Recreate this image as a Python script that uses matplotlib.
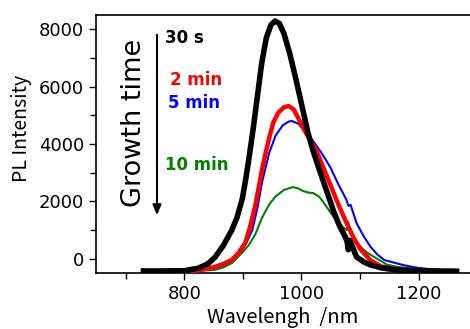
import matplotlib
matplotlib.use("Agg")
import matplotlib.pyplot as plt
from matplotlib.ticker import MultipleLocator

# spectra (wavelength nm, PL intensity)
wl_30s = [730, 760, 800, 824, 840, 852, 866, 881, 890, 899, 905, 911, 918, 925, 932, 940, 948, 955, 962, 970, 980, 990, 1000, 1011, 1020, 1034, 1045, 1055, 1065, 1075, 1078, 1080, 1082, 1086, 1094, 1106, 1118, 1136, 1160, 1200, 1230, 1265]
pl_30s = [-420, -420, -410, -320, -170, 50, 450, 1000, 1450, 2100, 2800, 3600, 4600, 5700, 6800, 7700, 8150, 8280, 8200, 7850, 7150, 6300, 5400, 4400, 3750, 2900, 2250, 1650, 1150, 760, 600, 320, 650, 480, 70, -100, -210, -310, -380, -410, -420, -430]

wl_2min = [730, 780, 820, 852, 866, 881, 893, 904, 912, 921, 928, 933, 940, 946, 952, 960, 970, 978, 987, 997, 1010, 1025, 1037, 1049, 1063, 1077, 1090, 1101, 1118, 1136, 1160, 1200, 1230, 1265]
pl_2min = [-420, -420, -410, -280, -180, -40, 220, 560, 1100, 1850, 2600, 3150, 3800, 4300, 4750, 5080, 5280, 5320, 5200, 4800, 4300, 3800, 3200, 2600, 1900, 1250, 700, 330, -50, -260, -360, -400, -410, -420]

wl_5min = [730, 780, 820, 852, 866, 881, 890, 899, 908, 916, 925, 933, 945, 956, 968, 978, 984, 995, 1008, 1020, 1034, 1049, 1063, 1077, 1080, 1084, 1094, 1106, 1118, 1130, 1141, 1153, 1175, 1198, 1230, 1265]
pl_5min = [-420, -420, -410, -310, -250, -140, 50, 310, 650, 1000, 1800, 2700, 3700, 4300, 4650, 4780, 4800, 4700, 4400, 4100, 3700, 3200, 2600, 2050, 1850, 1880, 1250, 800, 420, 150, -35, -100, -220, -310, -380, -420]

wl_10min = [730, 780, 820, 852, 866, 881, 890, 899, 910, 921, 933, 945, 956, 970, 985, 995, 1003, 1012, 1020, 1030, 1037, 1046, 1055, 1066, 1077, 1080, 1083, 1090, 1101, 1112, 1124, 1146, 1165, 1200, 1230, 1265]
pl_10min = [-430, -430, -420, -380, -300, -140, 40, 220, 480, 850, 1450, 1900, 2180, 2400, 2500, 2450, 2360, 2310, 2290, 2170, 1990, 1720, 1460, 1200, 1000, 1280, 950, 700, 420, 220, 70, -200, -280, -360, -400, -420]

labels = ["30 s", "2 min", "5 min", "10 min"]
colors = ["black", "red", "blue", "green"]
label_pos = [(165, 38), (170, 80), (168, 103), (165, 165)]  # pixel positions

W, H = 470, 329
fig = plt.figure(figsize=(W / 100, H / 100), dpi=100)
ax = fig.add_axes([96 / W, 1 - 273 / H, (480 - 96) / W, (273 - 15) / H])

ax.plot(wl_2min, pl_2min, color="red", lw=3.2, zorder=3)
ax.plot(wl_5min, pl_5min, color="blue", lw=1.5, zorder=2)
ax.plot(wl_10min, pl_10min, color="green", lw=1.5, zorder=2)
ax.plot(wl_30s, pl_30s, color="black", lw=4, zorder=4)

ax.set_xlim(649, 1305)
ax.set_ylim(-490, 8490)
ax.xaxis.set_major_locator(MultipleLocator(200))
ax.xaxis.set_minor_locator(MultipleLocator(100))
ax.yaxis.set_major_locator(MultipleLocator(2000))
ax.yaxis.set_minor_locator(MultipleLocator(1000))
ax.tick_params(axis="both", which="both", direction="out", labelsize=13, width=1)
ax.tick_params(which="major", length=5)
ax.tick_params(which="minor", length=4)
ax.spines["right"].set_visible(False)
for s in ax.spines.values():
    s.set_linewidth(1.2)

jp = ["Noto Sans CJK JP", "DejaVu Sans"]
fig.text(22 / W, 1 - 128 / H, "PL Intensity", rotation=90, ha="center", va="center",
         fontsize=14, family=jp)
fig.text(283 / W, 1 - 318 / H, "Wavelengh  /nm", ha="center", va="center",
         fontsize=14.5, family=jp)
fig.text(134 / W, 1 - 123 / H, "Growth time", rotation=90, ha="center", va="center",
         fontsize=19.5)
fig.add_artist(matplotlib.patches.FancyArrowPatch(
    (157 / W, 1 - 32 / H), (157 / W, 1 - 218 / H), transform=fig.transFigure,
    arrowstyle="-|>,head_length=6,head_width=2.5", color="black", lw=1.5,
    mutation_scale=1))
for lab, c, (px, py) in zip(labels, colors, label_pos):
    fig.text(px / W, 1 - py / H, lab, color=c, fontsize=12, fontweight="bold",
             ha="left", va="center")

fig.savefig("out.png", dpi=100)
